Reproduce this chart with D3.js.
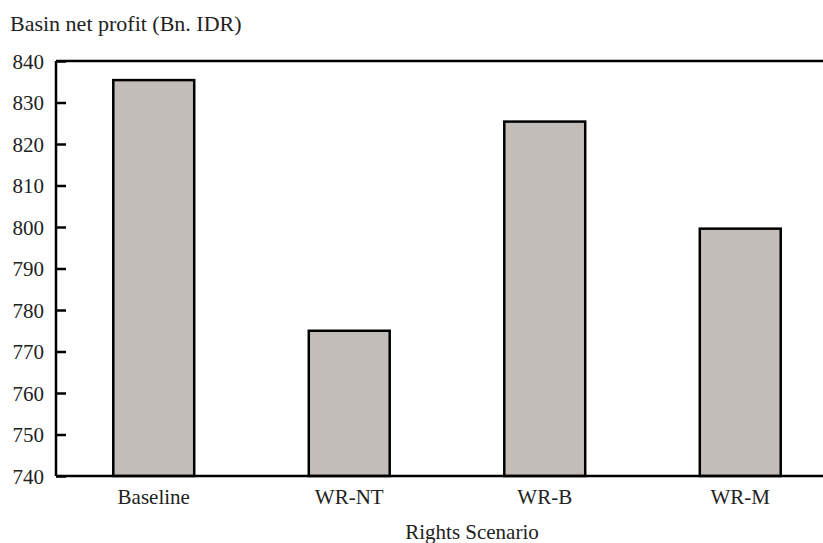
<!DOCTYPE html>
<html>
<head>
<meta charset="utf-8">
<style>
    body { margin: 0; background: #fff; }
    svg { display: block; font-family: 'Liberation Serif', 'DejaVu Serif', serif; }
    .tick text { font-size: 21px; fill: #222; }
    .label { font-size: 21px; fill: #222; }
    .title { font-size: 22px; fill: #222; }
</style>
</head>
<body>
<svg width="823" height="543"></svg>
<script src="https://d3js.org/d3.v7.min.js"></script>
<script>
    let scenarios = ["Baseline", "WR-NT", "WR-B", "WR-M"]
    let profit = [835.4, 775.0, 825.4, 799.6]
    let yTicks = [740, 750, 760, 770, 780, 790, 800, 810, 820, 830, 840]

    let data = scenarios.map((s, i) => ({ name: s, value: profit[i] }))

    let svg = d3.select("svg")
    let margin = { top: 61, right: -15, bottom: 67, left: 56 }
    let width = 823, height = 543

    let x = d3.scaleBand()
        .domain(scenarios)
        .range([margin.left, width - margin.right])
        .paddingInner(0.586)
        .paddingOuter(0.293)

    let y = d3.scaleLinear()
        .domain([740, 840])
        .range([height - margin.bottom, margin.top])

    // bars
    svg.append("g")
        .selectAll("rect")
        .data(data)
        .join("rect")
        .attr("x", d => x(d.name))
        .attr("y", d => y(d.value))
        .attr("width", x.bandwidth())
        .attr("height", d => y(740) - y(d.value))
        .attr("fill", "#c2bdb9")
        .attr("stroke", "#000")
        .attr("stroke-width", 2.5)

    // y axis, ticks pointing inward
    svg.append("g")
        .attr("transform", `translate(${margin.left},0)`)
        .call(d3.axisRight(y).tickValues(yTicks).tickSize(10).tickFormat(d3.format("d")))
        .attr("font-family", null)
        .attr("font-size", null)
        .call(g => g.select(".domain").remove())
        .call(g => g.selectAll(".tick line").attr("stroke", "#000").attr("stroke-width", 2.5))
        .call(g => g.selectAll(".tick text")
            .attr("x", -12)
            .attr("text-anchor", "end")
            .attr("dy", "0.35em"))

    // frame lines: left, top, bottom
    svg.append("line")
        .attr("x1", margin.left).attr("x2", margin.left)
        .attr("y1", y(840)).attr("y2", y(740))
        .attr("stroke", "#000").attr("stroke-width", 2.5)
    svg.append("line")
        .attr("x1", margin.left).attr("x2", width)
        .attr("y1", y(840)).attr("y2", y(840))
        .attr("stroke", "#000").attr("stroke-width", 2.5)
    svg.append("line")
        .attr("x1", margin.left).attr("x2", width)
        .attr("y1", y(740)).attr("y2", y(740))
        .attr("stroke", "#000").attr("stroke-width", 2.5)

    // x axis labels
    svg.append("g")
        .attr("transform", `translate(0,${y(740)})`)
        .call(d3.axisBottom(x).tickSize(0).tickPadding(13))
        .attr("font-family", null)
        .attr("font-size", null)
        .call(g => g.select(".domain").remove())
        .call(g => g.selectAll(".tick text").attr("dy", "0.71em"))

    svg.append("text")
        .attr("class", "title")
        .attr("x", 10)
        .attr("y", 31)
        .text("Basin net profit (Bn. IDR)")

    svg.append("text")
        .attr("class", "label")
        .attr("x", 472)
        .attr("y", 539)
        .attr("text-anchor", "middle")
        .text("Rights Scenario")
</script>
</body>
</html>
